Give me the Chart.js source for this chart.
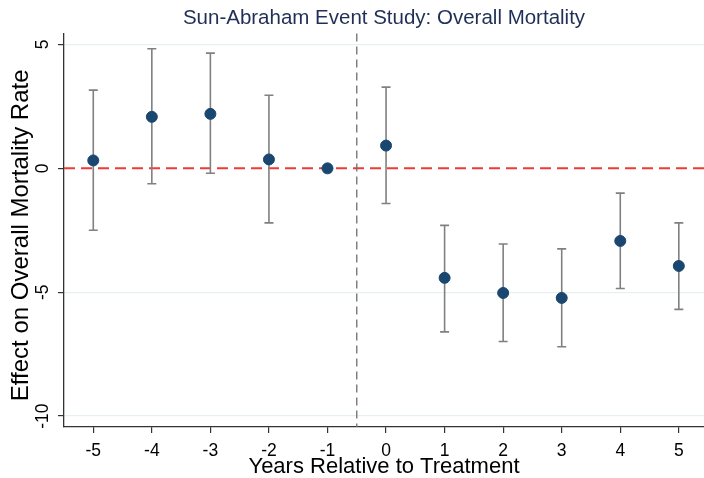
<!DOCTYPE html>
<html>
<head>
<meta charset="utf-8">
<script src="https://cdn.jsdelivr.net/npm/chart.js@4.4.1/dist/chart.umd.min.js"></script>
<style>
  html, body { margin: 0; padding: 0; background: #fff; overflow: hidden; }
  #wrap { width: 704px; height: 478px; position: relative; }
</style>
</head>
<body>
<div id="wrap"><canvas id="eventChart"></canvas></div>
<script>
// event time relative to treatment
const years = [-5, -4, -3, -2, -1, 0, 1, 2, 3, 4, 5];
// point estimates
const estimates = [0.32, 2.08, 2.2, 0.36, 0, 0.92, -4.42, -5.03, -5.23, -2.93, -3.94];
// 95% CI bounds (null = reference period, no interval)
const ciUpper = [3.16, 4.83, 4.65, 2.95, null, 3.28, -2.3, -3.05, -3.25, -1.0, -2.2];
const ciLower = [-2.5, -0.62, -0.2, -2.2, null, -1.42, -6.6, -6.99, -7.2, -4.85, -5.69];
const yTicks = [5, 0, -5, -10];

const FONT = '"Liberation Sans", Arial, Helvetica, sans-serif';

// error bars + reference lines + y title
const refLines = {
    id: 'refLines',
    beforeDatasetsDraw(chart) {
        const { ctx, chartArea, scales: { x, y } } = chart;
        ctx.save();

        // zero line
        const y0 = y.getPixelForValue(0);
        ctx.strokeStyle = '#ee3b36';
        ctx.lineWidth = 2;
        ctx.setLineDash([11, 6]);
        ctx.beginPath();
        ctx.moveTo(chartArea.left, y0);
        ctx.lineTo(chartArea.right, y0);
        ctx.stroke();

        // treatment line
        const xv = x.getPixelForValue(-0.5);
        ctx.strokeStyle = '#6e6e6e';
        ctx.lineWidth = 1.3;
        ctx.setLineDash([8, 5]);
        ctx.beginPath();
        ctx.moveTo(xv, chartArea.top);
        ctx.lineTo(xv, chartArea.bottom);
        ctx.stroke();

        // confidence intervals
        ctx.setLineDash([]);
        ctx.strokeStyle = '#808080';
        ctx.lineWidth = 1.6;
        years.forEach((yr, i) => {
            if (ciUpper[i] === null) return;
            const px = x.getPixelForValue(yr);
            const top = y.getPixelForValue(ciUpper[i]);
            const bot = y.getPixelForValue(ciLower[i]);
            ctx.beginPath();
            ctx.moveTo(px, top);
            ctx.lineTo(px, bot);
            ctx.moveTo(px - 4.5, top);
            ctx.lineTo(px + 4.5, top);
            ctx.moveTo(px - 4.5, bot);
            ctx.lineTo(px + 4.5, bot);
            ctx.stroke();
        });
        ctx.restore();
    },
    afterDraw(chart) {
        // y axis title, a bit below the axis centre like the original
        const c = chart.ctx;
        const ca = chart.chartArea;
        c.save();
        c.translate(21, (ca.top + ca.bottom) / 2 + 5);
        c.rotate(-Math.PI / 2);
        c.fillStyle = '#000';
        c.font = '24px ' + FONT;
        c.textAlign = 'center';
        c.textBaseline = 'middle';
        c.fillText('Effect on Overall Mortality Rate', 0, 0);
        c.restore();
    }
};

const ctx = document.getElementById('eventChart').getContext('2d');
new Chart(ctx, {
    type: 'scatter',
    data: {
        datasets: [{
            label: 'Estimate',
            data: years.map((yr, i) => ({ x: yr, y: estimates[i] })),
            backgroundColor: '#1a476f',
            borderColor: '#1a476f',
            pointRadius: 5.5,
            pointHoverRadius: 5.5
        }]
    },
    options: {
        responsive: true,
        maintainAspectRatio: false,
        animation: false,
        layout: { padding: 0, autoPadding: false },
        plugins: {
            legend: { display: false },
            tooltip: { enabled: false },
            title: {
                display: true,
                fullSize: false,
                text: 'Sun-Abraham Event Study: Overall Mortality',
                color: '#1f2f55',
                font: { family: FONT, size: 20.5, weight: 'normal' },
                padding: { top: 6, bottom: 3 }
            }
        },
        scales: {
            x: {
                type: 'linear',
                min: -5.5,
                max: 5.43,
                afterBuildTicks: s => { s.ticks = years.map(v => ({ value: v })); },
                afterFit: s => { s.height = 51; },
                grid: { drawOnChartArea: false, tickLength: 6, tickColor: '#333', lineWidth: 1.2 },
                border: { display: true, color: '#333', width: 1.3 },
                ticks: {
                    color: '#000',
                    padding: 8,
                    font: { family: FONT, size: 17.5 },
                    maxRotation: 0,
                    minRotation: 0
                },
                title: {
                    display: true,
                    text: 'Years Relative to Treatment',
                    color: '#000',
                    font: { family: FONT, size: 22, lineHeight: 1 },
                    padding: { top: 0, bottom: 0 }
                }
            },
            y: {
                type: 'linear',
                min: -10.44,
                max: 5.44,
                afterBuildTicks: s => { s.ticks = yTicks.map(v => ({ value: v })); },
                afterFit: s => { s.width = 64; },
                grid: {
                    color: ctx => ctx.tick && ctx.tick.value === 0 ? 'rgba(0,0,0,0)' : '#e6eff1',
                    tickColor: '#333',
                    tickLength: 6,
                    lineWidth: 1.2
                },
                border: { display: true, color: '#333', width: 1.3 },
                ticks: {
                    color: '#000',
                    padding: 2,
                    crossAlign: 'center',
                    font: { family: FONT, size: 17.5 },
                    minRotation: 90,
                    maxRotation: 90
                },
                title: { display: false }
            }
        }
    },
    plugins: [refLines]
});
</script>
</body>
</html>
